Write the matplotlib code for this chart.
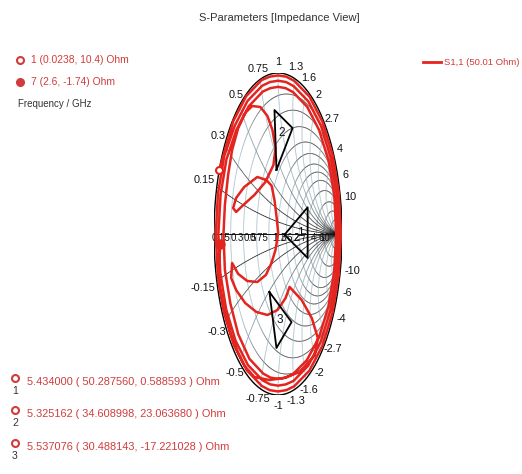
import numpy as np
import matplotlib.pyplot as plt
from matplotlib.collections import LineCollection
from matplotlib.lines import Line2D

plt.rcParams['font.family'] = ['Liberation Sans Narrow', 'Liberation Sans', 'DejaVu Sans']

# S1,1 trace as reflection coefficient, 1 GHz ... 7 GHz
s11_re = [
    -0.917, -0.700, -0.495, -0.256, -0.129, 0.000, 0.129, 0.255, 0.492, 0.696,
    0.852, 0.950, 0.983, 0.948, 0.850, 0.694, 0.490, 0.253, 0.128, 0.000,
    -0.128, -0.253, -0.488, -0.690, -0.844, -0.941, -0.973, -0.938, -0.840,
    -0.674, -0.477, -0.247, -0.125, 0.000, 0.125, 0.246, 0.475, 0.672, 0.822,
    0.917, 0.948, 0.914, 0.819, 0.668, 0.472, 0.244, 0.123, 0.000, -0.123,
    -0.243, -0.470, -0.663, -0.810, -0.902, -0.932, -0.898, -0.805,
    -0.648, -0.458, -0.237, -0.119, 0.000, 0.119, 0.236, 0.456, 0.644, 0.789,
    0.880, 0.910, 0.877, 0.786, 0.641, 0.452, 0.233, 0.117, 0.000, -0.117,
    -0.232, -0.447, -0.622, -0.745, -0.830, -0.852, -0.830,
    -0.780, -0.717, -0.622, -0.512, -0.402, -0.276, -0.165, -0.087, -0.039,
    -0.071, -0.197, -0.370, -0.543, -0.654, -0.701, -0.654, -0.528, -0.323,
    -0.181, -0.100, -0.055, -0.024, 0.003, -0.039, -0.102, -0.188, -0.323,
    -0.480, -0.622, -0.717, -0.732, -0.654, -0.512, -0.339, -0.165, -0.008,
    0.118, 0.181, 0.370, 0.528, 0.622, 0.575, 0.339, 0.102, -0.134, -0.370,
    -0.520, -0.620, -0.740, -0.850, -0.921, -0.921, -0.899,
]
s11_im = [
    0.399, 0.700, 0.857, 0.956, 0.977, 0.985, 0.977, 0.951, 0.853, 0.696,
    0.492, 0.255, 0.000, -0.254, -0.491, -0.694, -0.849, -0.946, -0.970, -0.978,
    -0.970, -0.944, -0.846, -0.690, -0.487, -0.252, 0.000, 0.251, 0.485,
    0.674, 0.826, 0.921, 0.944, 0.952, 0.944, 0.918, 0.823, 0.672, 0.475,
    0.246, 0.000, -0.245, -0.473, -0.668, -0.818, -0.912, -0.934, -0.942, -0.934,
    -0.908, -0.814, -0.663, -0.468, -0.242, 0.000, 0.241, 0.465,
    0.648, 0.793, 0.885, 0.906, 0.914, 0.906, 0.881, 0.790, 0.644, 0.456,
    0.236, 0.000, -0.235, -0.454, -0.641, -0.783, -0.871, -0.892, -0.900, -0.892,
    -0.867, -0.775, -0.622, -0.430, -0.222, 0.000, 0.180,
    0.366, 0.522, 0.658, 0.752, 0.795, 0.789, 0.733, 0.646, 0.534,
    0.429, 0.323, 0.242, 0.180, 0.137, 0.161, 0.224, 0.292, 0.354,
    0.335, 0.300, 0.211, 0.112, 0.006, -0.099, -0.180, -0.254, -0.298,
    -0.292, -0.248, -0.180, -0.273, -0.348, -0.429, -0.484, -0.503, -0.472,
    -0.398, -0.329, -0.410, -0.522, -0.646, -0.752, -0.857, -0.894, -0.907, -0.888,
    -0.820, -0.740, -0.620, -0.460, -0.317, -0.174, -0.063,
]

# trace end points: R, X / Ohm
start_z = (0.0238, 10.4)
stop_z = (2.6, -1.74)

# markers
mk_num = ['1', '2', '3']
mk_freq = [5.434000, 5.325162, 5.537076]
mk_r = [50.287560, 34.608998, 30.488143]
mk_x = [0.588593, 23.063680, -17.221028]
z0 = 50.0

grid_r = [0.15, 0.3, 0.5, 0.75, 1, 1.3, 1.6, 2, 2.7, 4, 6, 10]
grid_x = [0.15, 0.3, 0.5, 0.75, 1, 1.3, 1.6, 2, 2.7, 4, 6, 10]

red = '#e3241f'
txt_red = '#d03c3c'


def gamma(r, x):
    z = complex(r, x) / z0
    g = (z - 1) / (z + 1)
    return g.real, g.imag


W, H = 522, 474
fig = plt.figure(figsize=(W / 100, H / 100), dpi=100)

# chart area (squeezed horizontally like the CST export)
x0, x1, y0, y1 = 214, 342, 73, 395
ax = fig.add_axes([x0 / W, 1 - y1 / H, (x1 - x0) / W, (y1 - y0) / H])
ax.set_xlim(-1, 1)
ax.set_ylim(-1, 1)
ax.axis('off')
sx, sy = (x1 - x0) / 2, (y1 - y0) / 2

light = np.array([0.62, 0.72, 0.77])
dark = np.array([0.08, 0.08, 0.08])


def grid_line(px, py, lw=0.55):
    pts = np.column_stack([px, py])
    seg = np.stack([pts[:-1], pts[1:]], axis=1)
    ok = ~np.isnan(seg).any(axis=(1, 2))
    seg = seg[ok]
    dx = (seg[:, 1, 0] - seg[:, 0, 0]) * sx
    dy = (seg[:, 1, 1] - seg[:, 0, 1]) * sy
    h = np.abs(dx) / np.hypot(dx, dy).clip(1e-9)
    w = np.clip((h - 0.25) / 0.5, 0, 1)[:, None]
    cols = light * (1 - w) + dark * w
    ax.add_collection(LineCollection(seg, colors=cols, linewidths=lw, zorder=1))


t = np.linspace(0, 2 * np.pi, 1441)
for r in grid_r:
    c, rad = r / (1 + r), 1 / (1 + r)
    grid_line(c + rad * np.cos(t), rad * np.sin(t))
for x in grid_x:
    for s in (1, -1):
        px = 1 + np.cos(t) / x
        py = s / x + np.sin(t) / x
        out = px ** 2 + py ** 2 > 1.0005
        px, py = px.copy(), py.copy()
        px[out] = np.nan
        py[out] = np.nan
        grid_line(px, py)

ax.plot([-1, 1], [0, 0], color='#111111', lw=0.7, zorder=1)
ax.plot(np.cos(t), np.sin(t), color='black', lw=1.0, zorder=1)

# reactance labels round the rim
for x in grid_x:
    for s in (1, -1):
        xx = s * x
        gr, gi = (xx ** 2 - 1) / (xx ** 2 + 1), 2 * xx / (xx ** 2 + 1)
        dx, dy = gr * sx, gi * sy
        n = np.hypot(dx, dy)
        dx, dy = dx / n, dy / n
        lab = '%g' % xx
        tw = 4.2 * len(lab)
        ax.annotate(lab, (gr, gi), xytext=(dx * (7 + tw / 2), dy * 11),
                    textcoords='offset pixels', ha='center', va='center',
                    fontsize=7.8, color='#111111')

# resistance labels on the real axis
for r in grid_r:
    ax.annotate('%g' % r, ((r - 1) / (r + 1), 0), xytext=(0, -4),
                textcoords='offset pixels', ha='right', va='center',
                fontsize=7, color='#111111')

# S1,1 trace
ax.plot(s11_re, s11_im, color=red, lw=1.8, solid_joinstyle='round', zorder=3)
gs = gamma(*start_z)
ge = gamma(*stop_z)
ax.plot(*gs, 'o', mfc='white', mec=red, mew=1.5, ms=5, zorder=4)
ax.plot(*ge, 'o', color=red, ms=6.5, zorder=4)

# marker flags
flags = {
    '1': [(0.10, -0.01), (0.46, 0.16), (0.46, -0.155)],
    '2': [(0.076, 0.098), (0.045, 0.47), (0.328, 0.358)],
    '3': [(0.054, -0.106), (0.40, -0.293), (0.164, -0.454)],
}
flag_txt = {'1': (0.35, 0.0), '2': (0.16, 0.33), '3': (0.21, -0.28)}
for n, r, x in zip(mk_num, mk_r, mk_x):
    gr, gi = gamma(r, x)
    v = flags[n]
    tri_x = [gr + d[0] for d in v] + [gr + v[0][0]]
    tri_y = [gi + d[1] for d in v] + [gi + v[0][1]]
    ax.plot(tri_x, tri_y, color='black', lw=1.3, zorder=5)
    ax.text(gr + flag_txt[n][0], gi + flag_txt[n][1], n, fontsize=8.5,
            ha='center', va='center', color='#111111', zorder=5)

# texts round the chart, in pixel coordinates
ov = fig.add_axes([0, 0, 1, 1], zorder=-1)
ov.set_xlim(0, W)
ov.set_ylim(H, 0)
ov.axis('off')

ov.text(279, 18, 'S-Parameters [Impedance View]', ha='center', va='center',
        fontsize=8, color='#333333')

ov.plot(20, 60, 'o', mfc='white', mec=txt_red, mew=1.5, ms=5)
ov.text(31, 60, '1 (%g, %g) Ohm' % start_z, va='center', fontsize=7.4,
        color=txt_red)
ov.plot(20, 82, 'o', color=txt_red, ms=5.5)
ov.text(31, 82, '7 (%g, %g) Ohm' % stop_z, va='center', fontsize=7.4,
        color=txt_red)
ov.text(18, 104, 'Frequency / GHz', va='center', fontsize=7, color='#333333')

ov.add_line(Line2D([423, 441], [62, 62], color=red, lw=2))
ov.text(444, 62, 'S1,1 (50.01 Ohm)', va='center', fontsize=6.8, color=txt_red)

rows = [382, 414, 447]
for y, n, f, r, x in zip(rows, mk_num, mk_freq, mk_r, mk_x):
    ov.plot(15, y - 4, 'o', mfc='white', mec=txt_red, mew=1.5, ms=5)
    ov.text(15, y + 9, n, ha='center', va='center', fontsize=7.5,
            color='#333333')
    ov.text(27, y, '%.6f ( %.6f, %.6f ) Ohm' % (f, r, x), va='center',
            fontsize=7.9, color=txt_red)

fig.savefig('out.png', dpi=100)
